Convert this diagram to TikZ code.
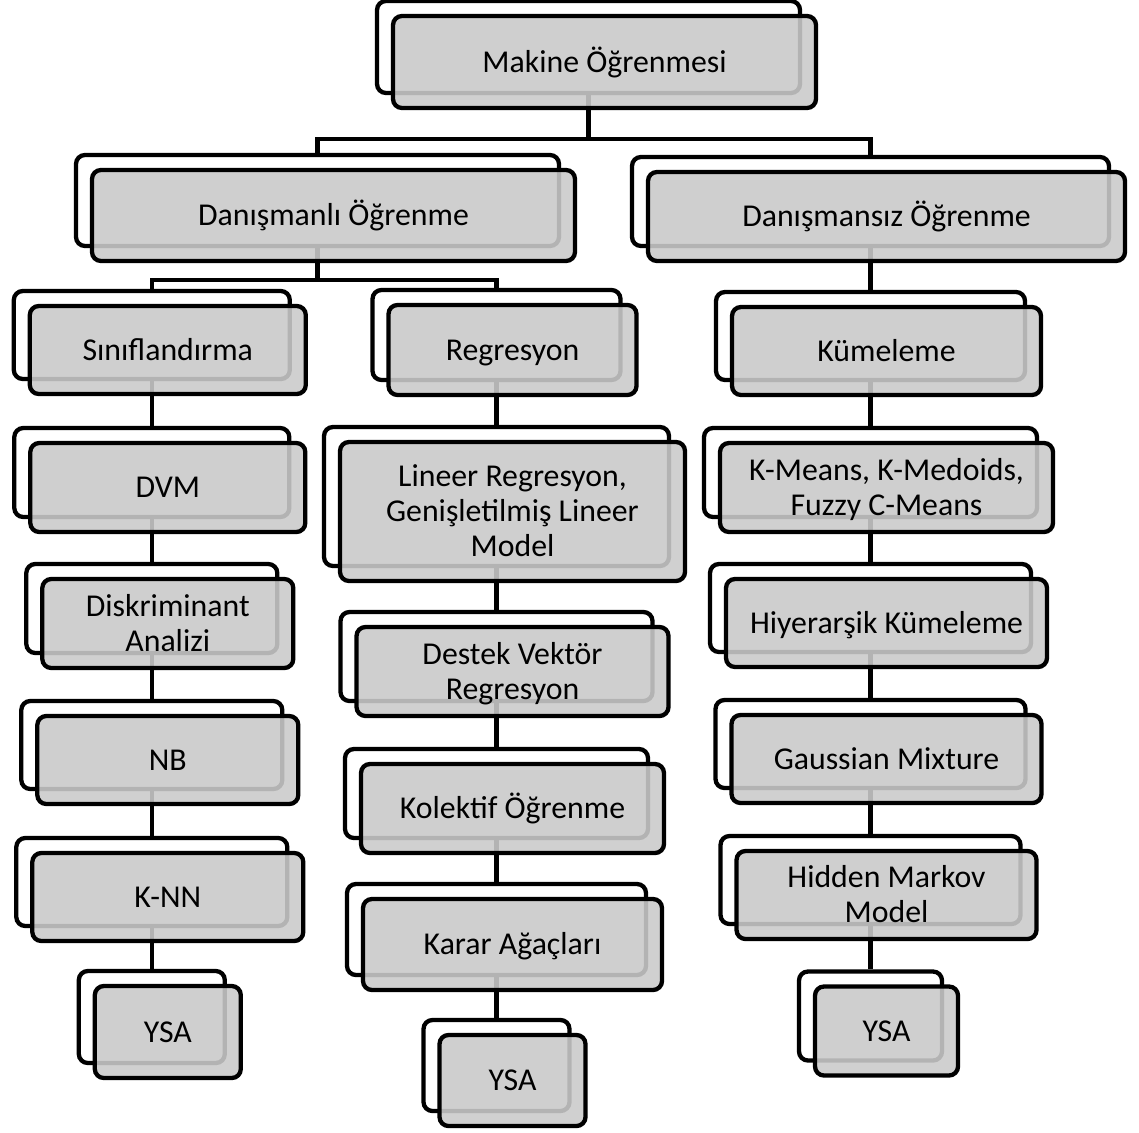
\documentclass[tikz,border=0pt]{standalone}
\usepackage{fontspec}
\setmainfont{Carlito}
\definecolor{fgray}{RGB}{202,202,202}
\pgfdeclarelayer{back}
\pgfdeclarelayer{front}
\pgfsetlayers{back,main,front}

\tikzset{
  boxbase/.style={rectangle, rounded corners=9pt, line width=4.3pt, draw=black,
    inner sep=0pt, align=center, font=\fontsize{31.8}{35}\selectfont},
  backbox/.style={boxbase, fill=white},
  frontbox/.style={boxbase, fill=fgray, fill opacity=0.89, text opacity=1},
  link/.style={line width=4.3pt, draw=black},
}

% invisible rule giving every text line the same height and depth
\newcommand\tstrut{\rule[-7pt]{0pt}{34pt}}
% line break that keeps every line the same height
\newcommand\nl{\tstrut\\\tstrut}

% #1 name, #2 centre x, #3 centre y, #4 width, #5 height, #6 label
% the white frame sits behind, shifted up and to the left
\newcommand\pairbox[6]{%
  \begin{pgfonlayer}{back}
    \node[backbox, minimum width={(#4-4)*1pt}, minimum height={(#5-4)*1pt}]
      (#1b) at ({#2-16},{#3-15}) {};
  \end{pgfonlayer}
  \begin{pgfonlayer}{front}
    \node[frontbox, minimum width={(#4-4)*1pt}, minimum height={(#5-4)*1pt}]
      (#1) at (#2,#3) {\tstrut#6\tstrut};
  \end{pgfonlayer}
}

\begin{document}
\begin{tikzpicture}[x=1pt, y=-1pt]
\useasboundingbox (0,0) rectangle (1139,1132);

% root and first level
\pairbox{ml}{604.5}{62}{427}{96}{Makine Öğrenmesi}
\pairbox{dl}{333.5}{215.5}{487}{95}{Danışmanlı Öğrenme}
\pairbox{du}{886.5}{216.5}{481}{93}{Danışmansız Öğrenme}

% supervised: classification column
\pairbox{sin}{167.8}{350}{280}{92}{Sınıflandırma}
\pairbox{dvm}{167.8}{487.5}{279}{93}{DVM}
\pairbox{dis}{167.8}{623.5}{255}{93}{Diskriminant\nl Analizi}
\pairbox{nb}{167.8}{760}{265}{92}{NB}
\pairbox{knn}{167.8}{897}{275}{92}{K-NN}
\pairbox{ysaL}{167.8}{1032}{150}{96}{YSA}

% supervised: regression column
\pairbox{reg}{512.5}{350}{252}{94}{Regresyon}
\pairbox{lin}{512.5}{511.5}{349}{143}{Lineer Regresyon,\nl Genişletilmiş Lineer\nl Model}
\pairbox{des}{512.5}{671.5}{316}{93}{Destek Vektör\nl Regresyon}
\pairbox{kol}{512.5}{808.5}{307}{93}{Kolektif Öğrenme}
\pairbox{kar}{512.5}{944.5}{303}{95}{Karar Ağaçları}
\pairbox{ysaM}{512.5}{1080.5}{150}{95}{YSA}

% unsupervised: clustering column
\pairbox{kum}{886.5}{351}{313}{92}{Kümeleme}
\pairbox{kmn}{886.5}{487.5}{337}{93}{K-Means, K-Medoids,\nl Fuzzy C-Means}
\pairbox{hiy}{886.5}{623}{325}{92}{Hiyerarşik Kümeleme}
\pairbox{gau}{886.5}{759}{314}{92}{Gaussian Mixture}
\pairbox{hid}{886.5}{895}{304}{92}{Hidden Markov\nl Model}
\pairbox{ysaR}{886.5}{1031}{147}{93}{YSA}

% branch levels
\coordinate (lvl1) at (0,139);
\coordinate (lvl2) at (0,280);

% connectors between the white frames
\draw[link] (mlb.south) -- (mlb.south |- lvl1);
\draw[link] (dlb.north) |- (dub.north |- lvl1) -- (dub.north);
\draw[link] (dlb.south) -- (dlb.south |- lvl2);
\draw[link] (sinb.north) |- (regb.north |- lvl2) -- (regb.north);
\draw[link] (dub.south) -- (kumb.north);

\draw[link] (sinb.south) -- (dvmb.north);
\draw[link] (dvmb.south) -- (disb.north);
\draw[link] (disb.south) -- (nbb.north);
\draw[link] (nbb.south) -- (knnb.north);
\draw[link] (knnb.south) -- (ysaLb.north);

\draw[link] (regb.south) -- (linb.north);
\draw[link] (linb.south) -- (desb.north);
\draw[link] (desb.south) -- (kolb.north);
\draw[link] (kolb.south) -- (karb.north);
\draw[link] (karb.south) -- (ysaMb.north);

\draw[link] (kumb.south) -- (kmnb.north);
\draw[link] (kmnb.south) -- (hiyb.north);
\draw[link] (hiyb.south) -- (gaub.north);
\draw[link] (gaub.south) -- (hidb.north);
\draw[link] (hidb.south) -- (ysaRb.north);
\end{tikzpicture}
\end{document}
